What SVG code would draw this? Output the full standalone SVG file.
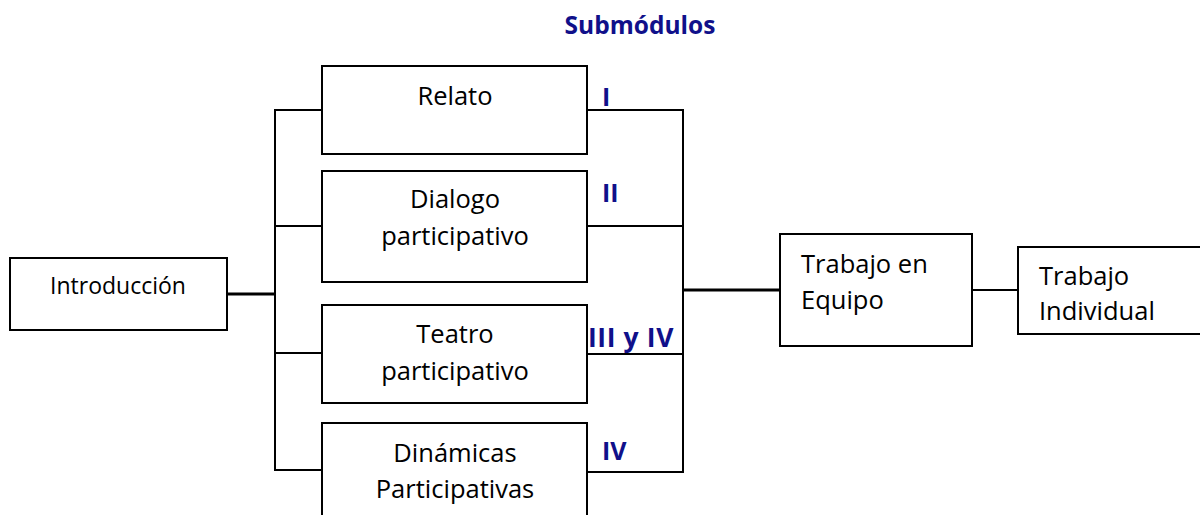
<svg xmlns="http://www.w3.org/2000/svg" width="1200" height="515" viewBox="0 0 1200 515">
<style>
.box{fill:#fff;stroke:#000;stroke-width:2}
.ln{fill:none;stroke:#000;stroke-width:2}
.thick{fill:none;stroke:#000;stroke-width:3}
.t{font-family:"Open Sans","Noto Sans",sans-serif;font-size:25.5px;fill:#000}
.ts{font-family:"Open Sans","Noto Sans",sans-serif;font-size:23px;fill:#000}
.lbl{font-family:"Open Sans","Noto Sans",sans-serif;font-size:25px;font-weight:bold;fill:#10108A}
.ttl{font-family:"Open Sans","Noto Sans",sans-serif;font-size:24.5px;font-weight:bold;fill:#10108A}
</style>
<rect width="1200" height="515" fill="#fff"/>
<text class="ttl" x="640" y="34" text-anchor="middle">Submódulos</text>
<g id="connectors">
<line class="thick" x1="227" y1="294" x2="275" y2="294"/>
<polyline class="ln" points="322,110 275,110 275,470 322,470"/>
<line class="ln" x1="275" y1="226" x2="322" y2="226"/>
<line class="ln" x1="275" y1="353" x2="322" y2="353"/>
<polyline class="ln" points="587,110 683,110 683,472 587,472"/>
<line class="ln" x1="587" y1="226" x2="683" y2="226"/>
<line class="ln" x1="587" y1="354" x2="683" y2="354"/>
<line class="thick" x1="683" y1="290" x2="780" y2="290"/>
<line class="ln" x1="972" y1="290" x2="1018" y2="290"/>
</g>
<g id="introduccion">
<rect class="box" x="10" y="258" width="217" height="72"/>
<text class="ts" x="118" y="294" text-anchor="middle">Introducción</text>
</g>
<g id="relato">
<rect class="box" x="322" y="66" width="265" height="88"/>
<text class="t" x="455" y="105" text-anchor="middle">Relato</text>
<text class="lbl" x="602" y="106">I</text>
</g>
<g id="dialogo">
<rect class="box" x="322" y="171" width="265" height="111"/>
<text class="t" x="455" y="208" text-anchor="middle">Dialogo</text>
<text class="t" x="455" y="245" text-anchor="middle">participativo</text>
<text class="lbl" x="602" y="202">II</text>
</g>
<g id="teatro">
<rect class="box" x="322" y="305" width="265" height="98"/>
<text class="t" x="455" y="343" text-anchor="middle">Teatro</text>
<text class="t" x="455" y="380" text-anchor="middle">participativo</text>
<text class="lbl" x="588" y="347" style="font-size:26.5px;letter-spacing:0.6px">III y IV</text>
</g>
<g id="dinamicas">
<rect class="box" x="322" y="423" width="265" height="100"/>
<text class="t" x="455" y="462" text-anchor="middle">Dinámicas</text>
<text class="t" x="455" y="498" text-anchor="middle">Participativas</text>
<text class="lbl" x="602" y="460">IV</text>
</g>
<g id="trabajo-equipo">
<rect class="box" x="780" y="234" width="192" height="112"/>
<text class="t" x="801" y="273">Trabajo en</text>
<text class="t" x="801" y="309">Equipo</text>
</g>
<g id="trabajo-individual">
<rect class="box" x="1018" y="247" width="190" height="87"/>
<text class="t" x="1039" y="285">Trabajo</text>
<text class="t" x="1039" y="320">Individual</text>
</g>
</svg>
